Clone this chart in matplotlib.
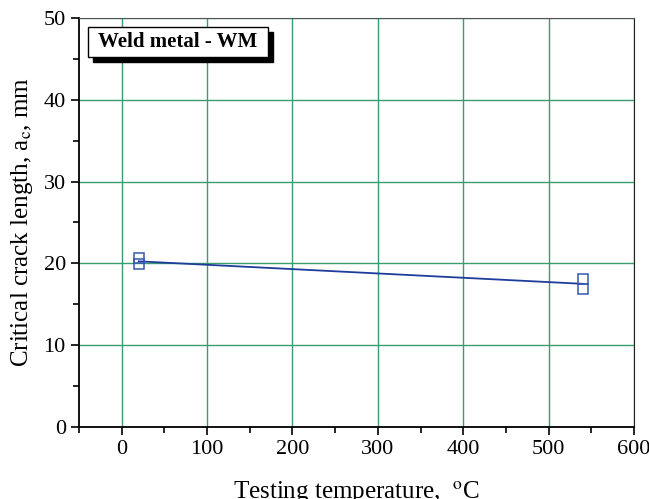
import matplotlib
matplotlib.use("Agg")
import matplotlib.pyplot as plt
import numpy as np
from matplotlib.patches import Rectangle
from matplotlib.ticker import MultipleLocator

plt.rcParams['font.family'] = ['Liberation Serif', 'DejaVu Serif']
plt.rcParams['mathtext.fontset'] = 'stix'

# measured points (temperature in C, critical crack length in mm)
temp = [20, 20, 540, 540]
crack = [20.6, 19.9, 18.1, 16.9]

fig = plt.figure(figsize=(6.49, 4.99), dpi=100)
ax = fig.add_axes([0.1217, 0.1443, 0.977 - 0.1217, 0.964 - 0.1443])

# linear fit through the points
k, b = np.polyfit(temp, crack, 1)
xs = np.array([min(temp), max(temp)])
ax.plot(xs, k * xs + b, color='#1f3c9c', lw=1.3, zorder=3)
ax.plot(temp, crack, ls='none', marker='s', ms=6.5, mfc='none',
        mec='#3557b0', mew=1.1, zorder=4)

ax.set_xlim(-50, 600)
ax.set_ylim(0, 50)
ax.xaxis.set_major_locator(MultipleLocator(100))
ax.xaxis.set_minor_locator(MultipleLocator(50))
ax.yaxis.set_major_locator(MultipleLocator(10))
ax.yaxis.set_minor_locator(MultipleLocator(5))
ax.tick_params(which='major', direction='out', length=6, width=1.2, labelsize=16)
ax.tick_params(which='minor', direction='out', length=4, width=1.2)
ax.tick_params(top=False, right=False)
ax.grid(True, which='major', color='#3a9d6c', lw=1.0)
ax.set_axisbelow(True)

for s in ['left', 'bottom']:
    ax.spines[s].set_linewidth(1.3)
ax.spines['top'].set_color('#555555')
ax.spines['right'].set_color('#222222')

ax.set_xlabel('Testing temperature,  $^{\\mathrm{o}}$C', fontsize=18, labelpad=15)
ax.set_ylabel('Critical crack length, a$_{\\mathrm{c}}$, mm', fontsize=18, labelpad=6)

# label box with a drop shadow
bx, by, bw, bh = 0.016, 0.905, 0.325, 0.073
ax.add_patch(Rectangle((bx + 0.009, by - 0.012), bw, bh, transform=ax.transAxes,
                       fc='black', ec='black', zorder=5))
ax.add_patch(Rectangle((bx, by), bw, bh, transform=ax.transAxes,
                       fc='white', ec='black', lw=1.0, zorder=6))
ax.text(bx + bw / 2, by + bh / 2, 'Weld metal - WM', transform=ax.transAxes,
        fontsize=15, fontweight='bold', va='center', ha='center', zorder=7)

fig.savefig('out.png', dpi=100)
